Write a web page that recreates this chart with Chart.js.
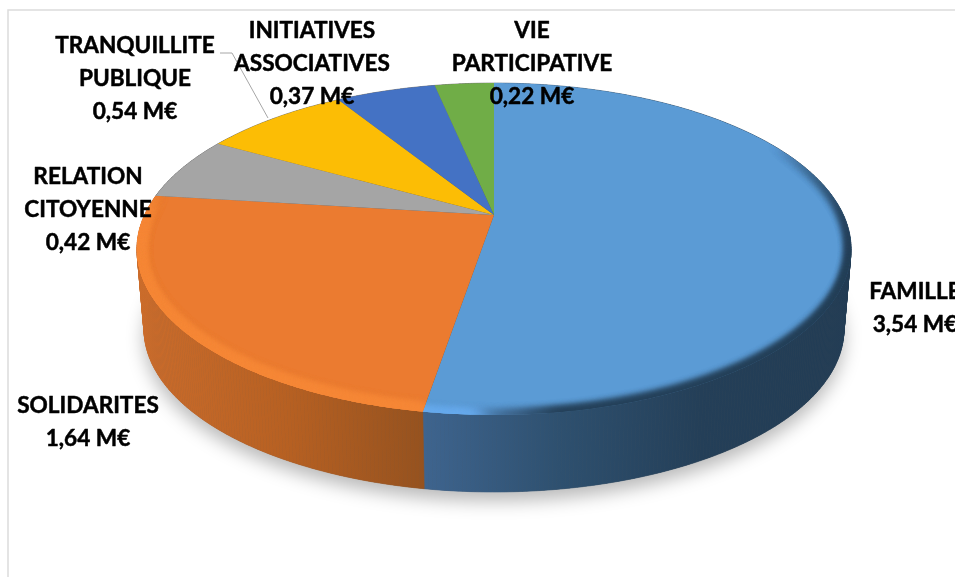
<!DOCTYPE html>
<html>
<head>
<meta charset="utf-8">
<title>Budget par politique</title>
<style>
    body { margin: 0; background: #fff; }
    canvas { display: block; }
</style>
<script src="https://cdn.jsdelivr.net/npm/chart.js@4/dist/chart.umd.min.js"></script>
</head>
<body>
<canvas id="pieChart" width="955" height="578"></canvas>
<script>
// Values (millions of euros)
const categories = ['FAMILLE', 'SOLIDARITES', 'RELATION CITOYENNE', 'TRANQUILLITE PUBLIQUE', 'INITIATIVES ASSOCIATIVES', 'VIE PARTICIPATIVE'];
const values = [3.54, 1.64, 0.42, 0.54, 0.37, 0.22];
const sliceColors = ['#5B9BD5', '#EB7B30', '#A5A5A5', '#FCBD05', '#4472C4', '#70AD47'];

// Label centres, y of the first line
const labelX = [915, 88, 88, 135, 312, 532];
const labelY = [292, 406, 177, 46, 31, 31];
const lineGap = 32.8;

// Perspective of the disc
const apexX = 494, apexY = 215;
const radiusX = 349.5, radiusY = 159, tilt = 0.205;
const lowerApexY = 296, lowerScale = 0.98;

// Side gradients, left to right (only the first two slices show a side)
const sideStops = [
    [[425, '#3E648E'], [560, '#2E506F'], [700, '#243F58'], [850, '#223C54']],
    [[137, '#CB6C2B'], [290, '#B66022'], [425, '#95521F']]
];
// Bevel along the front edge: [angle, r, g, b, alpha]
const rimStops = [
    [[62, 36, 63, 88, 0], [85, 36, 63, 88, 0.35], [108, 36, 63, 88, 0.9], [172, 36, 63, 88, 0.9], [180, 60, 100, 140, 0.4], [183, 102, 170, 238, 0.8], [190, 102, 170, 238, 0.8]],
    [[189, 246, 135, 54, 0.95], [262, 246, 135, 54, 0.95], [277, 246, 135, 54, 0]]
];

function project(angle, lower) {
    const w = 1 + tilt * Math.cos(angle);
    const s = lower ? lowerScale : 1;
    return {
        x: apexX + s * radiusX * Math.sin(angle) / w,
        y: (lower ? lowerApexY : apexY) - s * radiusY * Math.cos(angle) / w
    };
}

function traceEdge(ctx, from, to, lower) {
    const steps = Math.max(2, Math.ceil(Math.abs(to - from) / 0.01));
    for (let i = 0; i <= steps; i++) {
        const p = project(from + (to - from) * i / steps, lower);
        ctx.lineTo(p.x, p.y);
    }
}

function rimColor(stops, deg) {
    for (let i = 1; i < stops.length; i++) {
        if (deg <= stops[i][0]) {
            const a = stops[i - 1], b = stops[i];
            const t = Math.max(0, (deg - a[0]) / (b[0] - a[0]));
            const c = [1, 2, 3, 4].map(k => a[k] + (b[k] - a[k]) * t);
            return 'rgba(' + Math.round(c[0]) + ',' + Math.round(c[1]) + ',' + Math.round(c[2]) + ',' + c[3] + ')';
        }
    }
    return 'rgba(0,0,0,0)';
}

const pie3d = {
    id: 'pie3d',
    // the library still computes the arcs, they are only painted differently
    beforeDatasetDraw() { return false; },
    afterDatasetsDraw(chart) {
        const ctx = chart.ctx;
        const arcs = chart.getDatasetMeta(0).data.map(arc => ({
            from: arc.startAngle + Math.PI / 2,
            to: arc.endAngle + Math.PI / 2,
            color: arc.options.backgroundColor
        }));

        // frame
        ctx.save();
        ctx.strokeStyle = '#DCDCDC';
        ctx.lineWidth = 1.5;
        ctx.beginPath();
        ctx.moveTo(955, 10);
        ctx.lineTo(8, 10);
        ctx.lineTo(8, 577);
        ctx.stroke();

        // soft shadow under the disc
        ctx.save();
        ctx.shadowColor = 'rgba(0,0,0,0.28)';
        ctx.shadowBlur = 18;
        ctx.shadowOffsetY = 9;
        ctx.fillStyle = '#555';
        ctx.beginPath();
        traceEdge(ctx, 0, Math.PI * 2, true);
        ctx.closePath();
        ctx.fill();
        ctx.restore();

        // sides, as thin strips so the silhouette stays closed
        arcs.forEach((arc, i) => {
            let style = '#666';
            if (sideStops[i]) {
                const list = sideStops[i];
                const x0 = list[0][0], x1 = list[list.length - 1][0];
                style = ctx.createLinearGradient(x0, 0, x1, 0);
                list.forEach(s => style.addColorStop((s[0] - x0) / (x1 - x0), s[1]));
            }
            ctx.fillStyle = style;
            ctx.strokeStyle = style;
            ctx.lineWidth = 0.6;
            const steps = Math.ceil((arc.to - arc.from) / 0.01);
            for (let k = 0; k < steps; k++) {
                const a0 = arc.from + (arc.to - arc.from) * k / steps;
                const a1 = arc.from + (arc.to - arc.from) * (k + 1) / steps;
                const p0 = project(a0, false), p1 = project(a1, false);
                const q1 = project(a1, true), q0 = project(a0, true);
                ctx.beginPath();
                ctx.moveTo(p0.x, p0.y);
                ctx.lineTo(p1.x, p1.y);
                ctx.lineTo(q1.x, q1.y);
                ctx.lineTo(q0.x, q0.y);
                ctx.closePath();
                ctx.fill();
                ctx.stroke();
            }
        });

        // top faces
        arcs.forEach((arc, i) => {
            ctx.beginPath();
            ctx.moveTo(apexX, apexY);
            traceEdge(ctx, arc.from, arc.to, false);
            ctx.closePath();
            ctx.fillStyle = arc.color;
            ctx.fill();

            if (!rimStops[i]) return;
            ctx.save();
            ctx.clip();
            ctx.filter = 'blur(3px)';
            ctx.lineCap = 'round';
            ctx.lineWidth = i === 0 ? 12 : 18;
            const stops = rimStops[i];
            const start = Math.max(stops[0][0], arc.from * 180 / Math.PI);
            const end = Math.min(stops[stops.length - 1][0], arc.to * 180 / Math.PI);
            for (let d = start; d < end; d += 1) {
                const p0 = project(d * Math.PI / 180, false);
                const p1 = project((d + 1) * Math.PI / 180, false);
                ctx.strokeStyle = rimColor(stops, d + 0.5);
                ctx.beginPath();
                ctx.moveTo(p0.x, p0.y);
                ctx.lineTo(p1.x, p1.y);
                ctx.stroke();
            }
            ctx.restore();
        });

        // leader line of TRANQUILLITE PUBLIQUE
        ctx.strokeStyle = '#A6A6A6';
        ctx.lineWidth = 1;
        ctx.beginPath();
        ctx.moveTo(220, 53);
        ctx.lineTo(232, 53);
        ctx.lineTo(268, 118);
        ctx.stroke();

        // labels, thickened a little to get the weight of the original
        ctx.font = 'bold 22.6px Lato';
        ctx.fillStyle = '#000';
        ctx.strokeStyle = '#000';
        ctx.lineWidth = 0.5;
        ctx.lineJoin = 'round';
        ctx.textAlign = 'center';
        ctx.textBaseline = 'middle';
        categories.forEach((name, i) => {
            const lines = name.split(' ');
            lines.push(values[i].toFixed(2).replace('.', ',') + ' M€');
            lines.forEach((text, j) => {
                ctx.fillText(text, labelX[i], labelY[i] + j * lineGap);
                ctx.strokeText(text, labelX[i], labelY[i] + j * lineGap);
            });
        });
        ctx.restore();
    }
};

document.addEventListener('DOMContentLoaded', function () {
    const ctx = document.getElementById('pieChart').getContext('2d');
    new Chart(ctx, {
        type: 'pie',
        data: {
            labels: categories,
            datasets: [{
                data: values,
                backgroundColor: sliceColors,
                borderWidth: 0
            }]
        },
        options: {
            responsive: false,
            animation: false,
            plugins: {
                legend: { display: false },
                tooltip: { enabled: false }
            }
        },
        plugins: [pie3d]
    });
});
</script>
</body>
</html>
